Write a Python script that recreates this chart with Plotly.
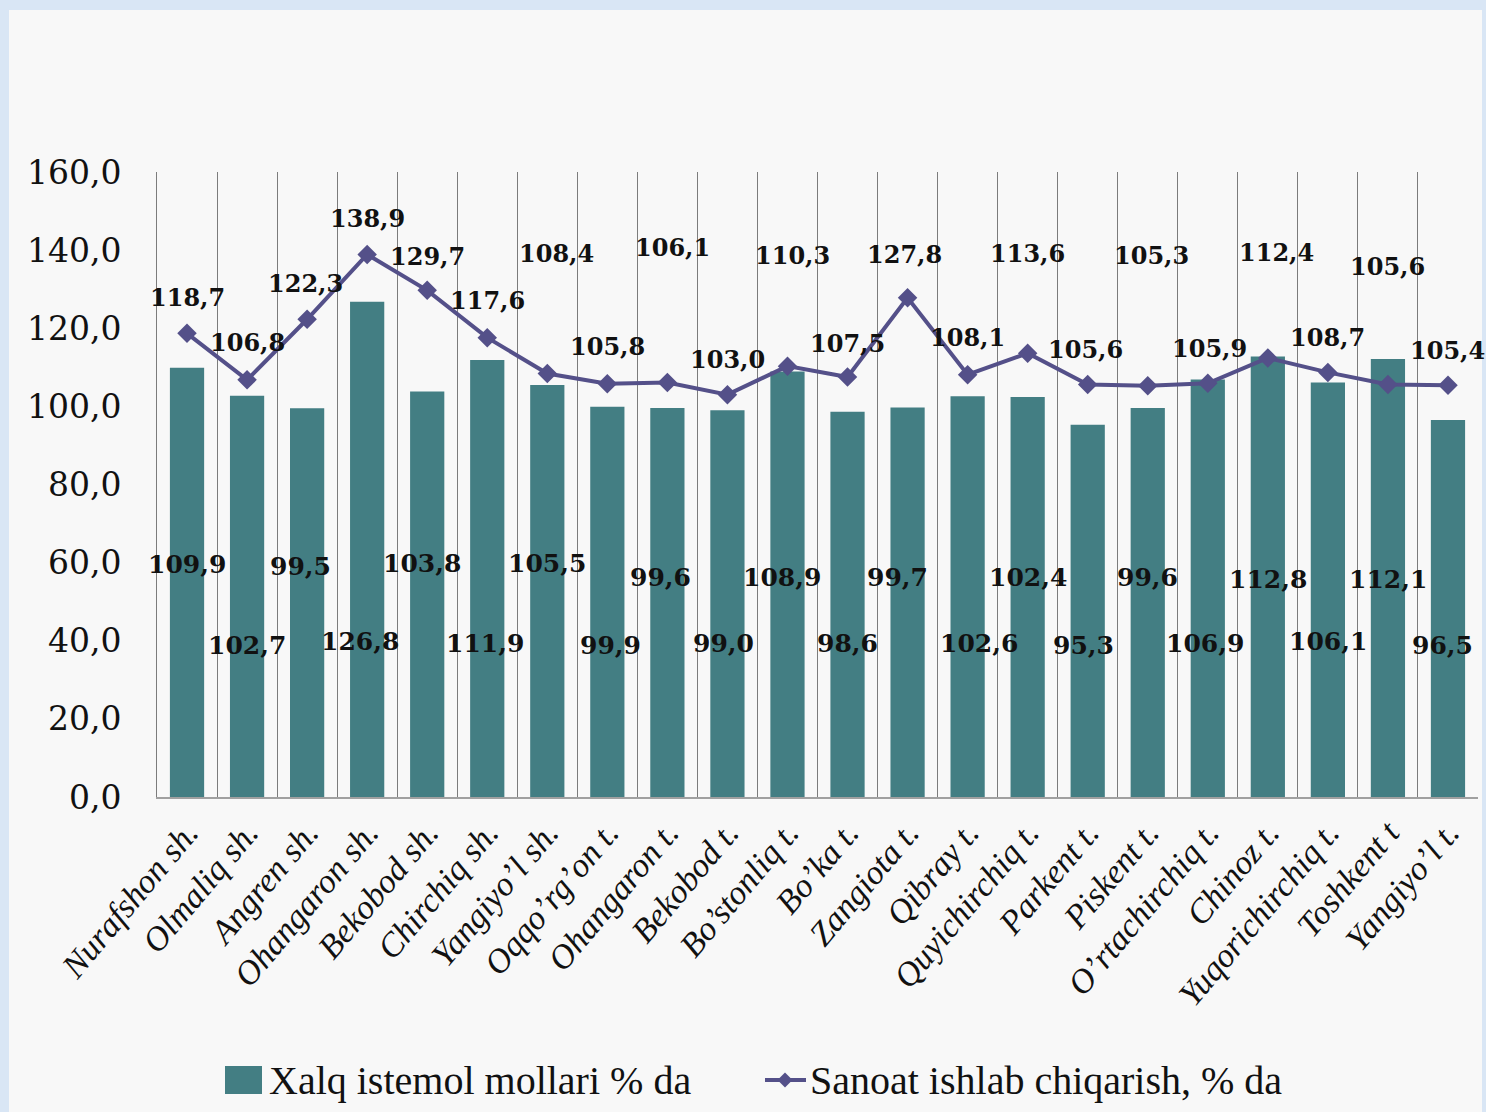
import plotly.graph_objects as go

categories = ["Nurafshon sh.", "Olmaliq sh.", "Angren sh.", "Ohangaron sh.", "Bekobod sh.",
              "Chirchiq sh.", "Yangiyo’l sh.", "Oqqo’rg’on t.", "Ohangaron t.", "Bekobod t.",
              "Bo’stonliq t.", "Bo’ka t.", "Zangiota t.", "Qibray t.", "Quyichirchiq t.",
              "Parkent t.", "Piskent t.", "O’rtachirchiq t.", "Chinoz t.", "Yuqorichirchiq t.",
              "Toshkent t", "Yangiyo’l t."]
consumer_goods = [109.9, 102.7, 99.5, 126.8, 103.8, 111.9, 105.5, 99.9, 99.6, 99.0, 108.9,
                  98.6, 99.7, 102.6, 102.4, 95.3, 99.6, 106.9, 112.8, 106.1, 112.1, 96.5]
industrial = [118.7, 106.8, 122.3, 138.9, 129.7, 117.6, 108.4, 105.8, 106.1, 103.0, 110.3,
              107.5, 127.8, 108.1, 113.6, 105.6, 105.3, 105.9, 112.4, 108.7, 105.6, 105.4]
y_ticks = [0, 20, 40, 60, 80, 100, 120, 140, 160]

name_bar = "Xalq istemol mollari % da"
name_line = "Sanoat ishlab chiqarish, % da"

# label placement (style only)
line_lbl_dy = [36, 37, 36, 36, 34, 37, 120, 37, 135, 35, 111, 34, 43, 37, 100, 35, 130, 35, 105, 35, 118, 35]
line_lbl_dx = [0, 0, -2, 0, 0, 0, 9, 0, 5, 0, 5, 0, -3, 0, 0, -2, 4, 2, 9, 0, 0, 0]
bar_lbl_y = [59.4, 38.9, 59.1, 39.7, 59.9, 39.2, 59.9, 38.9, 56.3, 39.2, 56.3, 39.4, 56.1, 39.4,
             56.3, 38.7, 56.3, 39.2, 55.8, 39.7, 55.6, 38.9]
bar_lbl_dx = [0, 0, -7, -7, -5, -2, 0, 3, -7, -4, -5, 0, -10, 11, 0, -4, 0, -3, 0, 0, 0, -5]

BAR_COLOR = "#437E83"
LINE_COLOR = "#545089"
NUM_FONT = "DejaVu Serif"
TXT_FONT = "Liberation Serif"

def fmt(v):
    return f"{v:.1f}".replace(".", ",")

xs = list(range(len(categories)))

fig = go.Figure()
fig.add_trace(go.Bar(x=xs, y=consumer_goods, name=name_bar, showlegend=False,
                     marker=dict(color=BAR_COLOR, line=dict(width=0)), width=0.57))
fig.add_trace(go.Scatter(x=xs, y=industrial, name=name_line, mode="lines+markers", showlegend=False,
                         line=dict(color=LINE_COLOR, width=4),
                         marker=dict(symbol="diamond", size=15, color=LINE_COLOR)))

W, H = 1486, 1112
ml, mr, mt, mb = 157, 8, 172, 315
pw, ph = W - ml - mr, H - mt - mb

def px_x(p):
    return (p - ml) / pw

def px_y(p):
    return (mt + ph - p) / ph

annotations = []
for i, v in enumerate(industrial):
    annotations.append(dict(x=i, y=v, xref="x", yref="y", text=fmt(v), showarrow=False,
                            yshift=line_lbl_dy[i], xshift=line_lbl_dx[i], yanchor="middle",
                            font=dict(family=NUM_FONT, size=24, color="#111", weight="bold")))
for i, v in enumerate(consumer_goods):
    annotations.append(dict(x=i, y=bar_lbl_y[i], xref="x", yref="y", text=fmt(v), showarrow=False,
                            xshift=bar_lbl_dx[i], yanchor="middle",
                            font=dict(family=NUM_FONT, size=25, color="#111", weight="bold")))

# manual legend
leg_y = 1080
annotations.append(dict(x=px_x(267), y=px_y(leg_y), xref="paper", yref="paper", text=name_bar,
                        showarrow=False, xanchor="left", yanchor="middle",
                        font=dict(family=TXT_FONT, size=40, color="#111")))
annotations.append(dict(x=px_x(808), y=px_y(leg_y), xref="paper", yref="paper", text=name_line,
                        showarrow=False, xanchor="left", yanchor="middle",
                        font=dict(family=TXT_FONT, size=40, color="#111")))

cx, cy, d = 785, leg_y, 7.5
diamond = "M {} {} L {} {} L {} {} L {} {} Z".format(
    px_x(cx), px_y(cy - d), px_x(cx + d), px_y(cy), px_x(cx), px_y(cy + d), px_x(cx - d), px_y(cy))

shapes = [
    dict(type="rect", xref="paper", yref="paper", layer="below",
         x0=px_x(9), x1=px_x(1482), y0=px_y(H + 5), y1=px_y(10),
         fillcolor="#f8f8f8", line=dict(width=0)),
    dict(type="rect", xref="paper", yref="paper", x0=px_x(225), x1=px_x(262),
         y0=px_y(leg_y + 14), y1=px_y(leg_y - 14), fillcolor=BAR_COLOR, line=dict(width=0)),
    dict(type="line", xref="paper", yref="paper", x0=px_x(765), x1=px_x(806),
         y0=px_y(leg_y), y1=px_y(leg_y), line=dict(color=LINE_COLOR, width=4)),
    dict(type="path", xref="paper", yref="paper", path=diamond, fillcolor=LINE_COLOR,
         line=dict(width=0)),
]

fig.update_layout(
    width=W, height=H,
    margin=dict(l=ml, r=mr, t=mt, b=mb, autoexpand=False),
    paper_bgcolor="#d9e6f5",
    plot_bgcolor="rgba(0,0,0,0)",
    separators=",.",
    showlegend=False,
    bargap=0.43,
    shapes=shapes,
    annotations=annotations,
    xaxis=dict(range=[-0.5, len(categories) - 0.5], tickmode="array", tickvals=xs, ticktext=categories,
               tickangle=-50, showgrid=False, zeroline=False, automargin=False,
               tickfont=dict(family=TXT_FONT, size=34, color="#111", style="italic"),
               ticks="", ticklabelstandoff=0,
               showline=True, linecolor="#a0a0a0", linewidth=2,
               minor=dict(tickmode="linear", tick0=-0.5, dtick=1, showgrid=True,
                          gridcolor="#7c7c7c", gridwidth=1)),
    yaxis=dict(range=[0, 160], tickmode="array", tickvals=y_ticks, tickformat=".1f",
               showgrid=False, zeroline=False, automargin=False,
               showline=True, linecolor="#7c7c7c", linewidth=1,
               tickfont=dict(family=NUM_FONT, size=33, color="#111"),
               ticks="", ticklabelstandoff=28),
)

fig.write_html("out.html", config={"displayModeBar": False},
               post_script="document.body.style.margin='0';document.body.style.padding='0';"
                           "document.body.style.background='#d9e6f5';")
